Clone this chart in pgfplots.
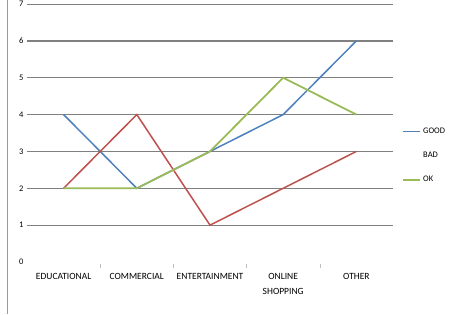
\documentclass[border=0pt]{standalone}
\usepackage{pgfplots}
\pgfplotsset{compat=1.18}
\usepackage{fontspec}
\setmainfont{Carlito}
\definecolor{cgood}{HTML}{4F81BD}
\definecolor{cbad}{HTML}{C0504D}
\definecolor{cok}{HTML}{9BBB59}
\begin{document}
\begin{tikzpicture}[x=1pt,y=1pt]
\useasboundingbox (0,0) rectangle (455,314);
\fill[white] (0,0) rectangle (455,314);
\draw[gray!80, line width=0.8pt] (7,0) -- (7,314);
\begin{axis}[
  at={(27pt,52pt)}, anchor=south west,
  scale only axis, width=366pt, height=258pt,
  xmin=-0.5, xmax=4.5, ymin=0, ymax=7,
  xtick={0,1,2,3,4},
  xticklabels={EDUCATIONAL,COMMERCIAL,ENTERTAINMENT,{ONLINE\\SHOPPING},OTHER},
  xticklabel style={align=center, font=\fontsize{9.5}{15}\selectfont, yshift=-8pt},
  ytick={1,2,3,4,5,6,7},
  extra y ticks={0},
  extra y tick style={grid=none},
  yticklabel style={font=\fontsize{8.5}{10}\selectfont},
  /pgf/number format/assume math mode=true,
  ymajorgrids, grid style={gray, line width=0.8pt},
  major tick length=0pt,
  axis line style={draw=none},
  clip=false,
  legend style={at={(1.025,0.535)}, anchor=north west, draw=none, fill=none,
    font=\fontsize{8.5}{10}\selectfont, row sep=13pt,
    legend cell align=left, inner xsep=0pt},
]
\draw[gray, line width=2.2pt] (axis cs:-0.5,6) -- (axis cs:4.5,6);
\draw[gray!50, line width=0.6pt] ([yshift=-2pt]axis cs:0.5,0) -- ([yshift=-6pt]axis cs:0.5,0);
\draw[gray!50, line width=0.6pt] ([yshift=-2pt]axis cs:1.5,0) -- ([yshift=-6pt]axis cs:1.5,0);
\draw[gray!50, line width=0.6pt] ([yshift=-2pt]axis cs:2.5,0) -- ([yshift=-6pt]axis cs:2.5,0);
\draw[gray!50, line width=0.6pt] ([yshift=-2pt]axis cs:3.5,0) -- ([yshift=-6pt]axis cs:3.5,0);
\addplot[cgood, line width=1.5pt] coordinates {(0,4) (1,2) (2,3) (3,4) (4,6)};
\addlegendentry{GOOD}
\addplot[cbad, line width=1.5pt, legend image code/.code={}] coordinates {(0,2) (1,4) (2,1) (3,2) (4,3)};
\addlegendentry{BAD}
\addplot[cok, line width=1.8pt] coordinates {(0,2) (1,2) (2,3) (3,5) (4,4)};
\addlegendentry{OK}
\end{axis}
\end{tikzpicture}
\end{document}
